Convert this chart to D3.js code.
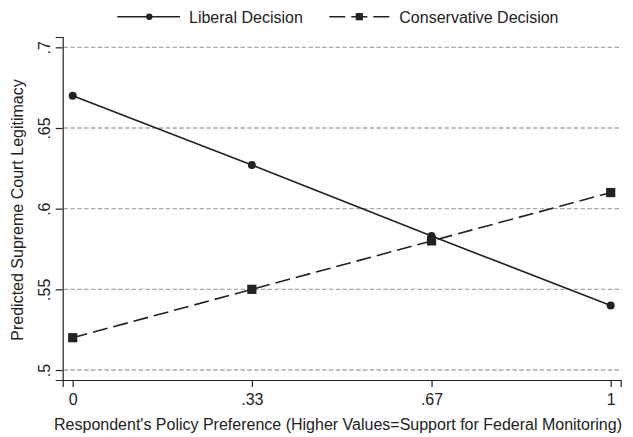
<!DOCTYPE html>
<html>
<head>
<meta charset="utf-8">
<script src="https://cdn.jsdelivr.net/npm/d3@7"></script>
<style>
  html, body { margin: 0; padding: 0; background: #fff; }
  svg { display: block; }
  text { font-family: "Liberation Sans", Arial, Helvetica, sans-serif; fill: #222; }
</style>
</head>
<body>
<svg id="chart" width="633" height="437"></svg>
<script>
// ---- data ----
const xValues = [0, 0.333, 0.667, 1];
const liberal = [0.670, 0.627, 0.583, 0.540];
const conservative = [0.520, 0.550, 0.580, 0.610];
const xTickValues = [0, 0.333, 0.667, 1];
const xTickLabels = ["0", ".33", ".67", "1"];
const yTickValues = [0.5, 0.55, 0.6, 0.65, 0.7];
const yTickLabels = [".5", ".55", ".6", ".65", ".7"];
const seriesNames = ["Liberal Decision", "Conservative Decision"];
const xTitle = "Respondent's Policy Preference (Higher Values=Support for Federal Monitoring)";
const yTitle = "Predicted Supreme Court Legitimacy";

// ---- layout ----
const svg = d3.select("#chart");
const ink = "#222";
const x = d3.scaleLinear().domain([-0.0186, 1.0186]).range([62.7, 620.7]);
const y = d3.scaleLinear().domain([0.4938, 0.7064]).range([380, 37]);

// gridlines
svg.append("g").selectAll("line").data(yTickValues).join("line")
  .attr("x1", x.range()[0] + 1).attr("x2", x.range()[1] + 1)
  .attr("y1", d => y(d)).attr("y2", d => y(d))
  .attr("stroke", "#aaa").attr("stroke-width", 1.3)
  .attr("stroke-dasharray", "4.5,2.3");

// y axis
const yAxis = svg.append("g").attr("transform", `translate(${x.range()[0]},0)`)
  .call(d3.axisLeft(y).tickValues(yTickValues).tickSizeOuter(0).tickSize(7)
    .tickFormat((d, i) => yTickLabels[i]));
yAxis.select(".domain").attr("stroke", ink).attr("stroke-width", 1.2);
yAxis.selectAll(".tick line").attr("stroke", ink).attr("stroke-width", 1.2);
yAxis.selectAll(".tick text")
  .attr("x", null).attr("dy", null)
  .attr("transform", "translate(-13,0) rotate(-90)")
  .attr("text-anchor", "middle")
  .style("font-size", "16px").style("font-family", "Liberation Sans, Arial, sans-serif")
  .attr("fill", ink);

// x axis
const xAxis = svg.append("g").attr("transform", `translate(0,${y.range()[0]})`)
  .call(d3.axisBottom(x).tickValues(xTickValues).tickSizeOuter(0).tickSize(7)
    .tickFormat((d, i) => xTickLabels[i]));
xAxis.select(".domain").attr("stroke", ink).attr("stroke-width", 1.2);
xAxis.selectAll(".tick line").attr("stroke", ink).attr("stroke-width", 1.2);
xAxis.selectAll(".tick text")
  .attr("y", 25).attr("dy", null)
  .style("font-size", "16px").style("font-family", "Liberation Sans, Arial, sans-serif")
  .attr("fill", ink);

// axis titles
svg.append("text").attr("x", 338).attr("y", 430).attr("text-anchor", "middle")
  .style("font-size", "16px").text(xTitle);
svg.append("text").attr("transform", "translate(23.3,210) rotate(-90)")
  .attr("text-anchor", "middle").style("font-size", "16px").text(yTitle);

// lines
const line = d3.line().x((d, i) => x(xValues[i])).y(d => y(d));
svg.append("path").datum(conservative).attr("d", line)
  .attr("fill", "none").attr("stroke", ink).attr("stroke-width", 1.6)
  .attr("stroke-dasharray", "15,6");
svg.append("path").datum(liberal).attr("d", line)
  .attr("fill", "none").attr("stroke", ink).attr("stroke-width", 1.6);

// markers
svg.append("g").selectAll("rect").data(conservative).join("rect")
  .attr("x", (d, i) => x(xValues[i]) - 4.6).attr("y", d => y(d) - 4.6)
  .attr("width", 9.2).attr("height", 9.2).attr("fill", ink);
svg.append("g").selectAll("circle").data(liberal).join("circle")
  .attr("cx", (d, i) => x(xValues[i])).attr("cy", d => y(d))
  .attr("r", 4).attr("fill", ink);

// legend
const lg = svg.append("g");
lg.append("line").attr("x1", 117.3).attr("x2", 180).attr("y1", 16.7).attr("y2", 16.7)
  .attr("stroke", ink).attr("stroke-width", 1.6);
lg.append("circle").attr("cx", 149.3).attr("cy", 16.7).attr("r", 3.2).attr("fill", ink);
lg.append("text").attr("x", 189).attr("y", 22.7).style("font-size", "16px").text(seriesNames[0]);

lg.append("line").attr("x1", 329.3).attr("x2", 389.3).attr("y1", 16.7).attr("y2", 16.7)
  .attr("stroke", ink).attr("stroke-width", 1.6).attr("stroke-dasharray", "16,6");
lg.append("rect").attr("x", 359.3 - 3.6).attr("y", 16.7 - 3.6).attr("width", 7.2).attr("height", 7.2).attr("fill", ink);
lg.append("text").attr("x", 399.3).attr("y", 22.7).style("font-size", "16px").text(seriesNames[1]);
</script>
</body>
</html>
